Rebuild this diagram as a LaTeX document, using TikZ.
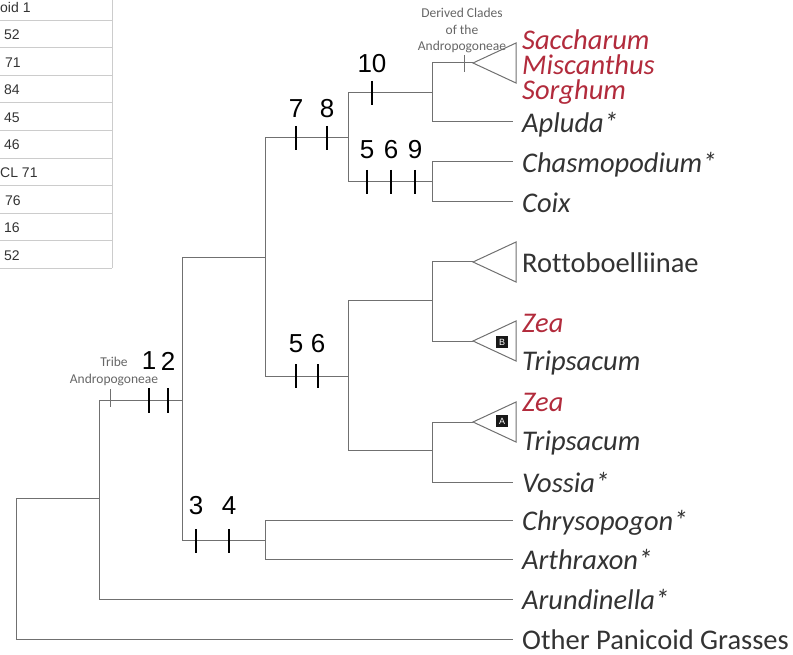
\documentclass[tikz,border=0pt]{standalone}
\usepackage{fontspec}
\setmainfont[Ligatures=NoCommon]{Carlito}
\newfontfamily\numfont{Liberation Sans}
\usetikzlibrary{positioning}
\definecolor{branchgray}{HTML}{707070}
\definecolor{taxongray}{HTML}{333333}
\definecolor{cladered}{HTML}{B22B3C}
\tikzset{%
  branch/.style = {draw=branchgray, line width=1pt},
  synapo/.style = {draw=black, line width=1.8pt},
  minortick/.style = {draw=branchgray, line width=0.8pt},
  taxon/.style = {anchor=west, inner xsep=9pt, inner ysep=0pt,
        text=taxongray, font=\fontsize{28.5}{31}\selectfont\itshape,
        text height=21pt, text depth=0pt},
  uptaxon/.style = {taxon, font=\fontsize{28.5}{31}\selectfont\upshape},
  redtaxon/.style = {taxon, text=cladered},
  charnum/.style = {font=\numfont\fontsize{26}{28}\selectfont, inner sep=0pt},
  note/.style = {font=\fontsize{13.5}{16.5}\selectfont, text=black!60,
        align=center, inner sep=0pt},
  cellnum/.style = {anchor=west, font=\numfont\fontsize{14}{16}\selectfont,
        text=taxongray, inner sep=0pt},
  cellrule/.style = {draw=black!20, line width=0.6pt},
  boxlabel/.style = {fill=black!90, text=white, font=\numfont\fontsize{9}{9}\selectfont,
        minimum size=12pt, inner sep=0pt}
}

\begin{document}
\begin{tikzpicture}[x=1pt,y=-1pt]
  \useasboundingbox (0,0) rectangle (793,655);
  % cropped table on the left
  \foreach \x/\t [count=\i] in {0/oid 1,4/52,5/71,4/84,4/45,4/46,0/CL 71,5/76,4/16,4/52}
    \node[cellnum] (cell\i) at (\x,7+27.6*\i-27.6) {\t};
  \foreach \i in {0,...,9}
    \draw[cellrule] (0,20+27.6*\i) -- (112,20+27.6*\i);
  \draw[cellrule] (112,0) -- (112,268);

  % internal nodes
  \coordinate (root) at (16,498);
  \coordinate (n1) at (99,498);
  \coordinate (n2) at (182,400);
  \coordinate (n3) at (265,258);
  \coordinate (n4) at (348,138);
  \coordinate (n5) at (432,93);
  \coordinate (n6) at (432,182);
  \coordinate (n7) at (348,376);
  \coordinate (n8) at (432,301);
  \coordinate (n9) at (432,450);
  \coordinate (n10) at (265,540);
  % triangle tips
  \coordinate (tipD) at (473,63);
  \coordinate (tipR) at (473,262);
  \coordinate (tipB) at (473,341);
  \coordinate (tipA) at (473,422);

  % taxa
  \node[redtaxon] (sacch) at (513,39) {Saccharum};
  \node[redtaxon] (misc) at (513,64) {Miscanthus};
  \node[redtaxon] (sorg) at (513,89) {Sorghum};
  \node[taxon] (apluda) at (513,122) {Apluda*};
  \node[taxon] (chasmo) at (513,162) {Chasmopodium*};
  \node[taxon] (coix) at (513,202) {Coix};
  \node[uptaxon] (rotto) at (513,262) {Rottoboelliinae};
  \node[redtaxon] (zeaB) at (513,322) {Zea};
  \node[taxon] (tripB) at (513,360) {Tripsacum};
  \node[redtaxon] (zeaA) at (513,401) {Zea};
  \node[taxon] (tripA) at (513,440) {Tripsacum};
  \node[taxon] (vossia) at (513,482) {Vossia*};
  \node[taxon] (chryso) at (513,520) {Chrysopogon*};
  \node[taxon] (arthr) at (513,559) {Arthraxon*};
  \node[taxon] (arund) at (513,599) {Arundinella*};
  \node[uptaxon] (other) at (513,639) {Other Panicoid Grasses};

  % branches
  \draw[branch] (root) |- (n1);
  \draw[branch] (root) |- (other.west);
  \draw[branch] (n1) |- (n2);
  \draw[branch] (n1) |- (arund.west);
  \draw[branch] (n2) |- (n3);
  \draw[branch] (n2) |- (n10);
  \draw[branch] (n3) |- (n4);
  \draw[branch] (n3) |- (n7);
  \draw[branch] (n4) |- (n5);
  \draw[branch] (n4) |- (n6);
  \draw[branch] (n5) |- (tipD);
  \draw[branch] (n5) |- (apluda.west);
  \draw[branch] (n6) |- (chasmo.west);
  \draw[branch] (n6) |- (coix.west);
  \draw[branch] (n7) |- (n8);
  \draw[branch] (n7) |- (n9);
  \draw[branch] (n8) |- (tipR);
  \draw[branch] (n8) |- (tipB);
  \draw[branch] (n9) |- (tipA);
  \draw[branch] (n9) |- (vossia.west);
  \draw[branch] (n10) |- (chryso.west);
  \draw[branch] (n10) |- (arthr.west);

  % collapsed clades
  \foreach \t in {tipD,tipR,tipB,tipA}
    \draw[branch] (\t) -- ++(43,-20) -- ++(0,40) -- cycle;
  \node[boxlabel] (boxB) at (502,342) {B};
  \node[boxlabel] (boxA) at (502,421) {A};

  % character changes
  \foreach \x/\n in {149/1,168/2} {
    \draw[synapo] (\x,388) -- (\x,413);
    \node[charnum] (c12-\n) at (\x,361) {\n};}
  \foreach \x/\n in {196/3,229/4} {
    \draw[synapo] (\x,529) -- (\x,553);
    \node[charnum] (c34-\n) at (\x,506) {\n};}
  \foreach \x/\n in {296/7,327/8} {
    \draw[synapo] (\x,126) -- (\x,150);
    \node[charnum] (c78-\n) at (\x,109) {\n};}
  \foreach \x/\n in {367/5,391/6,415/9} {
    \draw[synapo] (\x,170) -- (\x,194);
    \node[charnum] (c569-\n) at (\x,150) {\n};}
  \foreach \x/\n in {296/5,318/6} {
    \draw[synapo] (\x,364) -- (\x,388);
    \node[charnum] (c56-\n) at (\x,344) {\n};}
  \draw[synapo] (372,81) -- (372,105);
  \node[charnum] (c10) at (372,64) {10};

  % clade notes
  \draw[minortick] (110,389) -- (110,407);
  \node[note] (tribe) at (114,371.5) {Tribe\\Andropogoneae};
  \draw[minortick] (464,55) -- (464,72);
  \node[note] (derived) at (462,30.5) {Derived Clades\\of the\\Andropogoneae};
\end{tikzpicture}
\end{document}
